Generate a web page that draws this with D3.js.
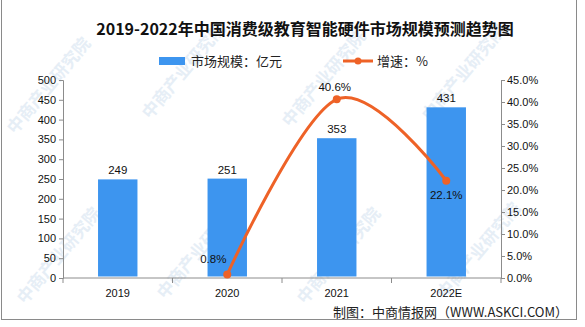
<!DOCTYPE html>
<html>
<head>
<meta charset="utf-8">
<script src="https://cdn.jsdelivr.net/npm/d3@7"></script>
<style>
  html, body { margin: 0; padding: 0; background: #fff; }
  svg { display: block; }
</style>
</head>
<body>
<svg id="chart" width="585" height="327"></svg>
<script>
// Market size (100 million yuan) and year-on-year growth (%)
const categories = ["2019", "2020", "2021", "2022E"];
const marketSize = [249, 251, 353, 431];
const growth = [null, 0.8, 40.6, 22.1];
const leftTicks = [0, 50, 100, 150, 200, 250, 300, 350, 400, 450, 500];
const rightTicks = [0, 5, 10, 15, 20, 25, 30, 35, 40, 45];

const title = "2019-2022年中国消费级教育智能硬件市场规模预测趋势图";
const legendBar = "市场规模：亿元";
const legendLine = "增速：%";
const source = "制图：中商情报网（WWW.ASKCI.COM）";
const watermark = "中商产业研究院";

const barColor = "#3D95EF";
const lineColor = "#EE6227";
const axisColor = "#8c8c8c";
const cjk = "'Noto Sans CJK SC', 'Noto Sans', sans-serif";
const num = "'Liberation Sans', Arial, sans-serif";

const svg = d3.select("#chart");
const plot = { left: 63, right: 501, top: 80, bottom: 278 };

// frame
svg.append("rect")
  .attr("x", 1.5).attr("y", -2)
  .attr("width", 575).attr("height", 321.5)
  .attr("fill", "none").attr("stroke", "#8a8a8a").attr("stroke-width", 1);

// faint diagonal watermark, kept inside the frame
const wm = svg.append("g").attr("fill", "#e6eef6").attr("font-family", cjk)
  .attr("font-size", 17).attr("font-weight", "bold");
[[15, 135], [150, 120], [290, 128], [430, 122], [25, 305], [165, 300], [305, 305], [445, 300]]
  .forEach(([x, y]) => {
    wm.append("text").attr("transform", `translate(${x},${y}) rotate(-50)`).text(watermark);
  });

const x = d3.scaleBand().domain(categories).range([plot.left, plot.right]).paddingInner(0.64).paddingOuter(0.32);
const xBand = d3.scaleBand().domain(categories).range([plot.left, plot.right]);
const yL = d3.scaleLinear().domain([0, 500]).range([plot.bottom, plot.top]);
const yR = d3.scaleLinear().domain([0, 45]).range([plot.bottom, plot.top]);

// title
svg.append("text")
  .attr("x", 305).attr("y", 35).attr("text-anchor", "middle")
  .attr("font-family", cjk).attr("font-size", 16).attr("font-weight", "bold")
  .attr("fill", "#111").text(title);

// legend
svg.append("rect").attr("x", 159).attr("y", 57).attr("width", 26).attr("height", 8).attr("fill", barColor);
svg.append("text").attr("x", 191).attr("y", 66).attr("font-family", cjk).attr("font-size", 13)
  .attr("fill", "#222").text(legendBar);
svg.append("line").attr("x1", 343).attr("x2", 373).attr("y1", 61).attr("y2", 61)
  .attr("stroke", lineColor).attr("stroke-width", 3);
svg.append("circle").attr("cx", 358).attr("cy", 61).attr("r", 3.5).attr("fill", lineColor);
svg.append("text").attr("x", 377).attr("y", 66).attr("font-family", cjk).attr("font-size", 13)
  .attr("fill", "#222").text(legendLine);

// left axis
const gL = svg.append("g").attr("transform", `translate(${plot.left},0)`)
  .call(d3.axisLeft(yL).tickValues(leftTicks).tickSize(4).tickPadding(3));
// right axis
const gR = svg.append("g").attr("transform", `translate(${plot.right},0)`)
  .call(d3.axisRight(yR).tickValues(rightTicks).tickSize(4).tickPadding(2)
    .tickFormat(d => d3.format(".1f")(d) + "%"));
[gL, gR].forEach(g => {
  g.select(".domain").attr("stroke", axisColor);
  g.selectAll(".tick line").attr("stroke", axisColor);
  g.selectAll(".tick text").attr("font-family", num).attr("font-size", 11).attr("fill", "#111");
});

// bottom axis: ticks at band boundaries
const gB = svg.append("g").attr("transform", `translate(0,${plot.bottom})`);
gB.append("line").attr("x1", plot.left).attr("x2", plot.right).attr("stroke", axisColor);
const bounds = categories.map(c => xBand(c)).concat([plot.right]);
gB.selectAll("line.tk").data(bounds).join("line").attr("class", "tk")
  .attr("x1", d => d).attr("x2", d => d).attr("y1", 0).attr("y2", 5).attr("stroke", axisColor);
gB.selectAll("text").data(categories).join("text")
  .attr("x", d => xBand(d) + xBand.bandwidth() / 2).attr("y", 19)
  .attr("text-anchor", "middle").attr("font-family", num).attr("font-size", 11)
  .attr("fill", "#111").text(d => d);

// bars
svg.append("g").selectAll("rect").data(categories).join("rect")
  .attr("x", d => x(d)).attr("width", x.bandwidth())
  .attr("y", (d, i) => yL(marketSize[i]))
  .attr("height", (d, i) => yL(0) - yL(marketSize[i]) - 1.5)
  .attr("fill", barColor);
svg.append("g").selectAll("text").data(categories).join("text")
  .attr("x", d => x(d) + x.bandwidth() / 2)
  .attr("y", (d, i) => yL(marketSize[i]) - 5)
  .attr("text-anchor", "middle").attr("font-family", num).attr("font-size", 11.5)
  .attr("fill", "#111").text((d, i) => marketSize[i]);

// growth line
const pts = categories.map((c, i) => ({ c, v: growth[i] })).filter(d => d.v !== null);
const cx = d => xBand(d.c) + xBand.bandwidth() / 2;
svg.append("path").datum(pts)
  .attr("d", d3.line().x(cx).y(d => yR(d.v)).curve(d3.curveCardinal.tension(0)))
  .attr("fill", "none").attr("stroke", lineColor).attr("stroke-width", 3);
svg.append("g").selectAll("circle").data(pts).join("circle")
  .attr("cx", cx).attr("cy", d => yR(d.v)).attr("r", 4).attr("fill", lineColor);

// growth labels
const lblOffset = { "2020": [-14, -11], "2021": [-2, -8], "2022E": [0, 18] };
svg.append("g").selectAll("text").data(pts).join("text")
  .attr("x", d => cx(d) + lblOffset[d.c][0])
  .attr("y", d => yR(d.v) + lblOffset[d.c][1])
  .attr("text-anchor", "middle").attr("font-family", num).attr("font-size", 11.5)
  .attr("fill", "#111").text(d => d3.format(".1f")(d.v) + "%");

// source
svg.append("text").attr("x", 568).attr("y", 317).attr("text-anchor", "end")
  .attr("font-family", cjk).attr("font-size", 13).attr("fill", "#222").text(source);
</script>
</body>
</html>
